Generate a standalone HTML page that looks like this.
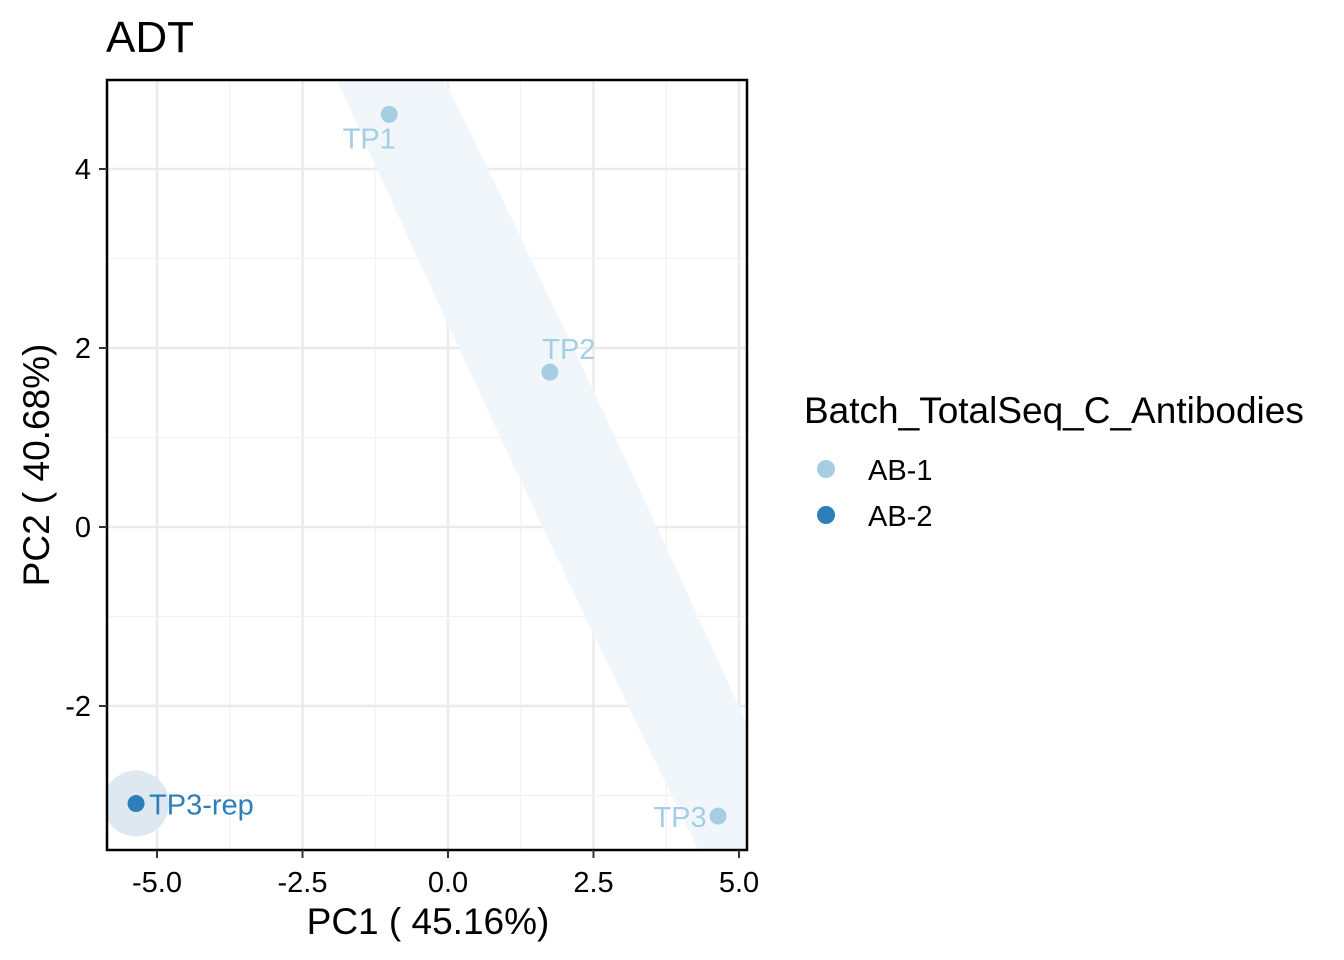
<!DOCTYPE html>
<html><head><meta charset="utf-8"><style>
html,body{margin:0;padding:0;background:#fff;overflow:hidden;width:1344px;height:960px;font-family:"Liberation Sans",Arial,sans-serif}
svg{display:block}
svg text{font-family:"Liberation Sans",Arial,sans-serif}
</style></head><body>
<svg id="chart" width="1344" height="960" viewBox="0 0 1344 960" xmlns="http://www.w3.org/2000/svg">
<defs><clipPath id="pc"><rect x="107" y="80" width="640" height="770"/></clipPath></defs>
<text x="106" y="52" font-size="44" fill="#000">ADT</text>
<g id="grid"></g>
<g id="ell" clip-path="url(#pc)"></g>
<g id="pts"></g>
<rect x="107" y="80" width="640" height="770" fill="none" stroke="#000" stroke-width="2.5"/>
<g id="axes"></g>
<text x="428" y="934" font-size="37" text-anchor="middle">PC1 ( 45.16%)</text>
<text transform="translate(49,465) rotate(-90)" font-size="37" text-anchor="middle">PC2 ( 40.68%)</text>
<text x="804" y="423" font-size="37">Batch_TotalSeq_C_Antibodies</text>
<circle cx="826" cy="469" r="9" fill="#a6cee3"/>
<text x="868" y="480" font-size="29">AB-1</text>
<circle cx="826" cy="515" r="9" fill="#2c7fb8"/>
<text x="868" y="526" font-size="29">AB-2</text>
</svg>
<script>
const labels=["TP1","TP2","TP3","TP3-rep"];
const pc1=[-1.01,1.75,4.64,-5.36];
const pc2=[4.61,1.73,-3.23,-3.09];
const batch=["AB-1","AB-1","AB-1","AB-2"];
const xTicks=[-5,-2.5,0,2.5,5];
const xTickLabels=["-5.0","-2.5","0.0","2.5","5.0"];
const yTicks=[-2,0,2,4];
const yTickLabels=["-2","0","2","4"];
const NS="http://www.w3.org/2000/svg";
const X=v=>448+v*58.2, Y=v=>527-v*89.5;
const col={"AB-1":"#a6cee3","AB-2":"#2c7fb8"};
function mk(t,a,p){const e=document.createElementNS(NS,t);for(const k in a)e.setAttribute(k,a[k]);p.appendChild(e);return e;}
const grid=document.getElementById('grid'),axes=document.getElementById('axes');
for(let i=0;i<xTicks.length;i++){
 const l=mk('line',{x1:X(xTicks[i]),x2:X(xTicks[i]),y1:80,y2:850,stroke:'#ebebeb','stroke-width':2.5},grid);
 
 if(i<xTicks.length-1){const m=mk('line',{x1:X(xTicks[i]+1.25),x2:X(xTicks[i]+1.25),y1:80,y2:850,stroke:'#f2f2f2','stroke-width':1.2},grid);
 }
 const tk=mk('line',{x1:X(xTicks[i]),x2:X(xTicks[i]),y1:850,y2:858,stroke:'#333','stroke-width':2},axes);
 
 const t=mk('text',{x:X(xTicks[i]),y:892,'font-size':29,'text-anchor':'middle',fill:'#000'},axes);t.textContent=xTickLabels[i];
 
}
for(let i=0;i<yTicks.length;i++){
 const l=mk('line',{x1:107,x2:747,y1:Y(yTicks[i]),y2:Y(yTicks[i]),stroke:'#ebebeb','stroke-width':2.5},grid);
 
 const tk=mk('line',{x1:99,x2:107,y1:Y(yTicks[i]),y2:Y(yTicks[i]),stroke:'#333','stroke-width':2},axes);
 
 const t=mk('text',{x:91,y:Y(yTicks[i])+10,'font-size':29,'text-anchor':'end',fill:'#000'},axes);t.textContent=yTickLabels[i];
 
}
for(const v of [-3,-1,1,3]){const m=mk('line',{x1:107,x2:747,y1:Y(v),y2:Y(v),stroke:'#f2f2f2','stroke-width':1.2},grid);}
const ell=document.getElementById('ell');
const idx1=[0,1,2].filter(i=>batch[i]==="AB-1");
let cx=0,cy=0;idx1.forEach(i=>{cx+=X(pc1[i]);cy+=Y(pc2[i]);});cx/=idx1.length;cy/=idx1.length;
const p0=[X(pc1[idx1[0]]),Y(pc2[idx1[0]])],p2=[X(pc1[idx1[idx1.length-1]]),Y(pc2[idx1[idx1.length-1]])];
const ang=Math.atan2(p2[1]-p0[1],p2[0]-p0[0])*180/Math.PI;
const e1=mk('ellipse',{cx:cx+4,cy:cy,rx:1100,ry:52,fill:'#f1f6fb',transform:`rotate(${ang.toFixed(2)} ${cx+4} ${cy})`},ell);

const e2=mk('circle',{cx:X(pc1[3]),cy:Y(pc2[3]),r:33,fill:'#dde8f1'},ell);

const pts=document.getElementById('pts');
const off=[[-20,34,'middle'],[19,-13,'middle'],[-38,11,'middle'],[13,11,'start']];
for(let i=0;i<labels.length;i++){
 const c=mk('circle',{cx:X(pc1[i]),cy:Y(pc2[i]),r:8.5,fill:col[batch[i]]},pts);
 
 const t=mk('text',{x:X(pc1[i])+off[i][0],y:Y(pc2[i])+off[i][1],'font-size':29,'text-anchor':off[i][2],fill:col[batch[i]]},pts);
 t.textContent=labels[i];
 
}
</script>
</body></html>
